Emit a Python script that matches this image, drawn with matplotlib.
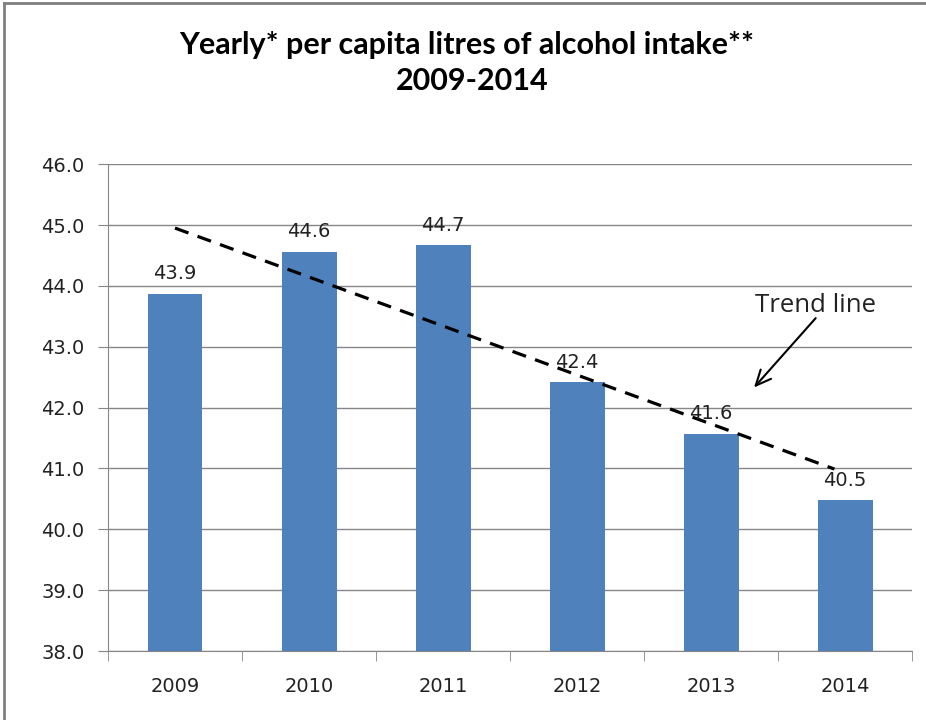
import matplotlib.pyplot as plt
from matplotlib.lines import Line2D
import numpy as np

years = ["2009", "2010", "2011", "2012", "2013", "2014"]
litres = [43.87, 44.56, 44.67, 42.42, 41.57, 40.48]
# hand drawn trend line, end points
trend_x = [0.0, 4.92]
trend_y = [44.95, 40.99]
yticks = [38, 39, 40, 41, 42, 43, 44, 45, 46]

fig = plt.figure(figsize=(9.26, 7.2), dpi=100)
ax = fig.add_axes([0.1166, 0.0958, 0.8685, 0.6762])

x = np.arange(len(years))
ax.bar(x, litres, width=0.41, color="#4F81BD", zorder=2)
for xi, v in zip(x, litres):
    ax.text(xi, v + 0.17, "%.1f" % v, ha="center", va="bottom",
            fontsize=14, color="#222222", family="DejaVu Sans", zorder=4)

ax.plot(trend_x, trend_y, color="black", lw=2.3, ls=(0, (4.5, 3)), zorder=3)

ax.set_xlim(-0.5, 5.5)
ax.set_ylim(38, 46)
ax.set_yticks(yticks)
ax.set_yticklabels(["%.1f" % t for t in yticks])
ax.set_xticks(x)
ax.set_xticklabels(years)
ax.set_xticks(np.arange(-0.5, 6, 1), minor=True)
ax.tick_params(axis="x", which="major", length=0, pad=19, labelsize=14)
ax.tick_params(axis="x", which="minor", length=7, color="#868686", direction="out")
ax.tick_params(axis="y", length=7, color="#868686", labelsize=14, pad=10)
for lab in ax.get_xticklabels() + ax.get_yticklabels():
    lab.set_family("DejaVu Sans")
    lab.set_color("#222222")

ax.grid(axis="y", color="#868686", lw=1, zorder=0)
for s in ["top", "right"]:
    ax.spines[s].set_visible(False)
for s in ["left", "bottom"]:
    ax.spines[s].set_color("#868686")

ax.text(4.78, 43.68, "Trend line", fontsize=18.5, family="Open Sans",
        color="#222222", ha="center", va="center")
ax.annotate("", xy=(4.32, 42.33), xytext=(4.78, 43.47),
            arrowprops=dict(arrowstyle="->,head_length=0.55,head_width=0.25",
                            color="black", lw=1.5, mutation_scale=20,
                            shrinkA=0, shrinkB=0))

fig.text(0.504, 0.937, "Yearly* per capita litres of alcohol intake**",
         ha="center", va="center", fontsize=22, fontweight="bold", family="Lato")
fig.text(0.51, 0.888, "2009-2014",
         ha="center", va="center", fontsize=22, fontweight="bold", family="Lato")

# grey chart border (top and left edges visible)
fig.add_artist(Line2D([0.0045, 0.0045], [0, 0.996], color="#808080", lw=2))
fig.add_artist(Line2D([0.0045, 1], [0.996, 0.996], color="#808080", lw=2))

fig.savefig("out.png", dpi=100)
